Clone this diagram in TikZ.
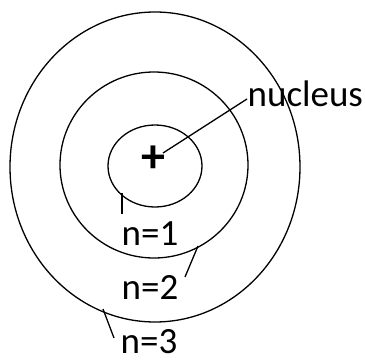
\documentclass[tikz,border=0pt]{standalone}
\usepackage{fontspec}
\setmainfont{Carlito}
\begin{document}
\begin{tikzpicture}[x=1pt,y=-1pt,line width=1.3pt,
  lbl/.style={inner sep=0pt,font=\fontsize{37}{40}\selectfont},
  orbit/.style={draw,line width=1.3pt}]
\useasboundingbox (0,0) rectangle (365,364);
\draw[orbit] (155,167) ellipse [x radius=145, y radius=155];
\draw[orbit] (154,165) ellipse [x radius=94, y radius=93];
\draw[orbit] (155,166) ellipse [x radius=47, y radius=41];
\node[inner sep=0pt,font=\fontsize{48}{48}\selectfont\bfseries] (plus) at (153,159) {+};
\node[lbl,anchor=west] (nuc) at (247,94) {nucleus};
\coordinate (nucend) at (163,153);
\draw (nuc.west) ++(0,5) -- (nucend);
\node[lbl] (n1) at (150,234) {n=1};
\node[lbl] (n2) at (150,287) {n=2};
\node[lbl] (n3) at (149,342) {n=3};
\coordinate (t1a) at (122,193); \coordinate (t1b) at (122,214);
\coordinate (t2a) at (198,246); \coordinate (t2b) at (185,277);
\coordinate (t3a) at (103,309); \coordinate (t3b) at (114,338);
\draw (t1a) -- (t1b);
\draw (t2a) -- (t2b);
\draw (t3a) -- (t3b);
\end{tikzpicture}
\end{document}
